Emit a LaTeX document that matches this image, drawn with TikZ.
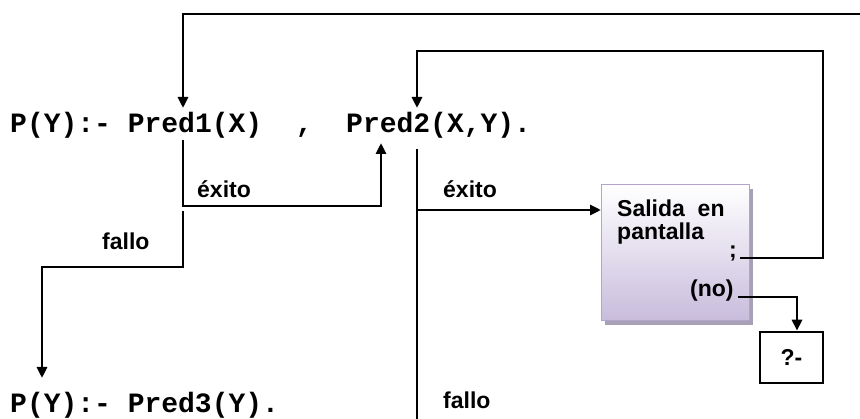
\documentclass[tikz,border=0pt]{standalone}
\usepackage{fontspec}
\setmainfont{Liberation Sans}
\newfontfamily\codefont{Liberation Mono}
\usetikzlibrary{arrows.meta}
\definecolor{boxbot}{RGB}{200,188,220}
\definecolor{boxline}{RGB}{178,164,204}
\definecolor{boxshadow}{RGB}{168,160,182}
\tikzset{
  code/.style={font=\codefont\bfseries\fontsize{28}{30}\selectfont, inner sep=0pt, anchor=base west},
  lbl/.style={font=\bfseries\fontsize{23}{25}\selectfont, inner sep=0pt, anchor=base west},
  flow/.style={line width=2.8pt},
  flowarrow/.style={line width=2.8pt, -{Triangle[length=11pt,width=10pt]}},
  outbox/.style={draw=black, line width=2.6pt, minimum width=63pt, minimum height=51pt, inner sep=0pt, font=\bfseries\fontsize{23}{25}\selectfont},
}
\begin{document}
\begin{tikzpicture}[x=1pt,y=-1pt]
\useasboundingbox (0,0) rectangle (860,419);
% clause 1
\node[code] (head1) at (10,133) {P(Y):-};
\node[code] (pred1) at (127.6,133) {Pred1(X)};
\node[code] (comma) at (295.6,133) {,};
\node[code] (pred2) at (346,133) {Pred2(X,Y).};
% clause 2
\node[code] (head2) at (10,413) {P(Y):- Pred3(Y).};
% output box
\fill[boxshadow] (605,189) rectangle (753,325);
\shade[top color=white, bottom color=boxbot, draw=boxline, line width=1pt] (601,185) rectangle (749,321);
\node[lbl] (salida1) at (617,217) {Salida\ \ en};
\node[lbl] (salida2) at (617,240) {pantalla};
\node[lbl] (semi) at (729,258) {;};
\node[lbl] (no) at (690,297) {(no)};
\node[outbox] (prompt) at (791.5,357.5) {?-};
% labels
\node[lbl] (exito1) at (197,198) {éxito};
\node[lbl] (fallo1) at (102,250) {fallo};
\node[lbl] (exito2) at (443,198) {éxito};
\node[lbl] (fallo2) at (443,409) {fallo};
% coordinates
\coordinate (p1top) at (183,108);
\coordinate (p1bot) at (183,140);
\coordinate (p2up) at (381,143);
\coordinate (p2top) at (417,108);
\coordinate (p2bot) at (417,149);
\coordinate (h2top) at (42,378);
\coordinate (offright) at (862,14);
\coordinate (offbottom) at (417,421);
\coordinate (boxin) at (601,210);
\coordinate (semiout) at (740,258);
\coordinate (noout) at (738,297);
% connectors
\draw[flowarrow] (offright) -- (183,14) -- (p1top);
\draw[flowarrow] (semiout) -- (823,258) -- (823,51) -- (417,51) -- (p2top);
\draw[flowarrow] (p1bot) -- (183,206) -- (381,206) -- (p2up);
\draw[flowarrow] (183,211) -- (183,267) -- (42,267) -- (h2top);
\draw[flow] (p2bot) -- (offbottom);
\draw[flowarrow] (417,210) -- (boxin);
\draw[flowarrow] (noout) -- (797,297) -- (prompt.north -| 797,0);
\end{tikzpicture}
\end{document}
